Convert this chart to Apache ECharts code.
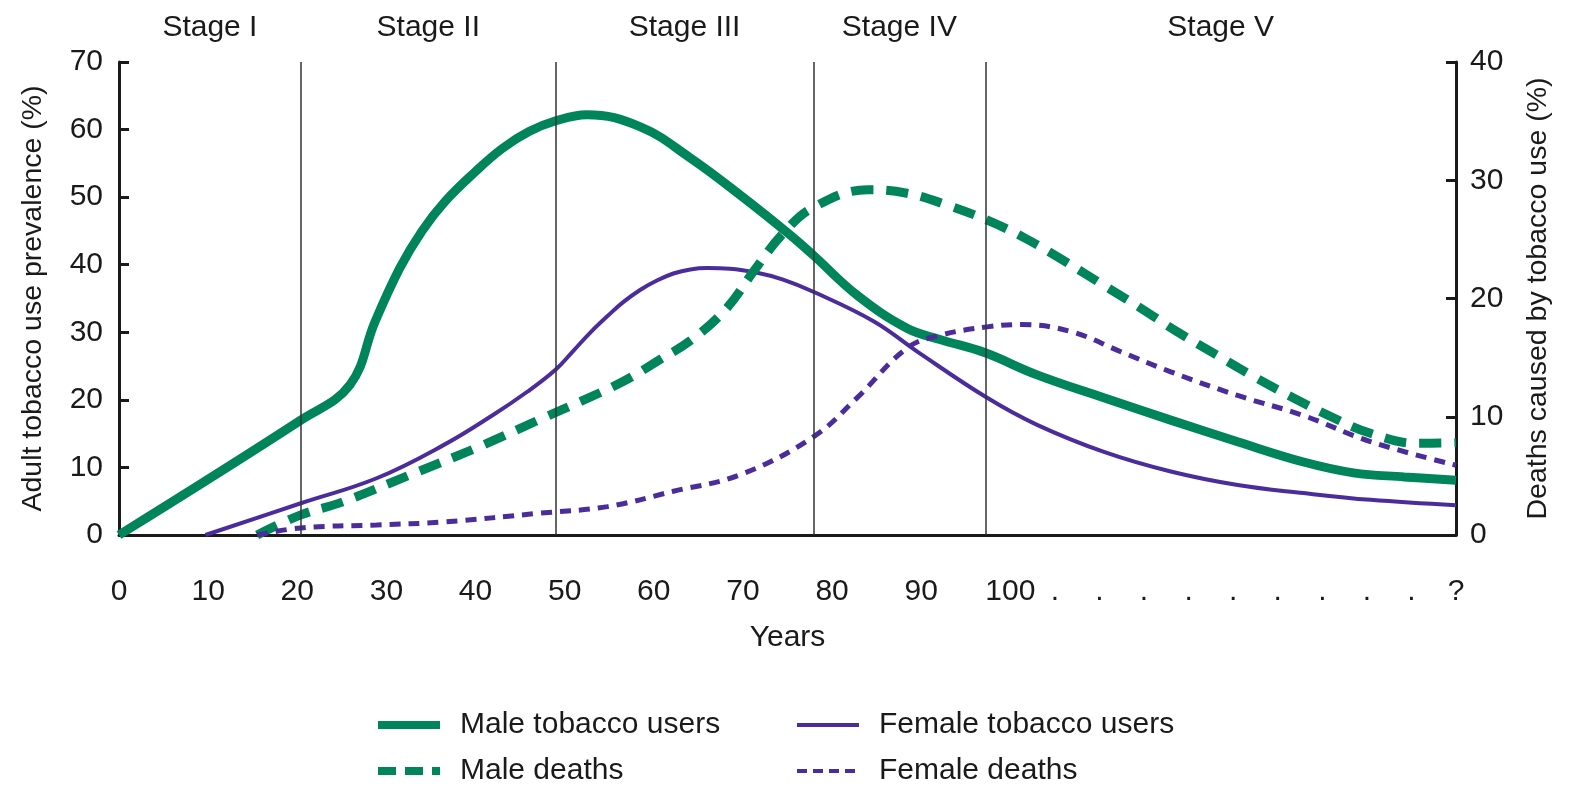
<!DOCTYPE html>
<html><head><meta charset="utf-8">
<script src="https://cdn.jsdelivr.net/npm/echarts@6/dist/echarts.min.js"></script>
<style>html,body{margin:0;padding:0;background:#fff}#c{width:1569px;height:787px}</style>
</head><body><div id="c"></div>
<script>
// ---- data ----
const stageNames = ['Stage I', 'Stage II', 'Stage III', 'Stage IV', 'Stage V'];
const stageBounds = [0, 20.4, 49, 77.9, 97.2, 150];

const maleUsersYears  = [0, 20.4, 25.9, 28.7, 31.5, 34, 36.6, 40, 43, 46, 49, 52.5, 58.5, 64.1, 69.7, 75.3, 77.9, 82.8, 88.4, 92.2, 97.1, 103, 110.5, 118, 125.5, 132.9, 138.5, 144.2, 150];
const maleUsersValues = [0, 17.0, 22.2, 31.5, 39.5, 45.0, 49.4, 53.8, 57.2, 59.7, 61.3, 62.2, 60.4, 55.8, 50.3, 44.4, 41.4, 35.5, 30.6, 28.9, 27.0, 23.7, 20.3, 17.0, 13.8, 10.8, 9.2, 8.6, 8.1];

const femaleUsersYears  = [9.7, 20.4, 28.9, 36.4, 42, 45.8, 49, 51, 52.9, 54.8, 56.6, 58.5, 60.4, 62.2, 64.1, 66, 68.5, 71.6, 74.5, 77.9, 84.7, 89.6, 97.4, 103, 110.5, 118, 125.5, 132.9, 140.4, 150];
const femaleUsersValues = [0, 4.7, 8.4, 13.3, 17.8, 21.2, 24.5, 27.3, 30.0, 32.4, 34.5, 36.3, 37.7, 38.7, 39.3, 39.5, 39.4, 38.8, 37.8, 36.0, 31.6, 27.1, 20.3, 16.3, 12.3, 9.4, 7.4, 6.2, 5.2, 4.4];

const maleDeathsYears  = [15.5, 20.4, 25.1, 32.7, 40.2, 47.6, 51.8, 56.6, 60.4, 64.4, 68.2, 71.2, 74.5, 77.9, 84, 88.4, 92.9, 97.8, 101.9, 106, 110.5, 114.6, 118.7, 123.2, 127.3, 131.5, 136, 140.4, 145.7, 150];
const maleDeathsValues = [0, 1.7, 2.8, 5.1, 7.4, 9.9, 11.3, 13.0, 14.7, 16.6, 19.2, 22.3, 25.5, 27.7, 29.2, 28.9, 27.9, 26.5, 25.0, 23.2, 21.1, 19.2, 17.2, 15.2, 13.4, 11.7, 10.0, 8.6, 7.75, 7.8];

const femaleDeathsYears  = [15.5, 20.4, 28.9, 36.4, 47.3, 54.8, 62.2, 69.7, 77.9, 82.8, 88.4, 92.2, 97.4, 101.2, 106.8, 112.4, 118, 125.5, 132.9, 140.4, 150];
const femaleDeathsValues = [0, 0.6, 0.85, 1.1, 1.85, 2.4, 3.7, 5.1, 8.3, 11.6, 15.8, 16.9, 17.6, 17.8, 17.2, 15.5, 13.8, 11.8, 10.1, 7.9, 5.9];

const xTickLast = 100;   // numbered labels up to here, dots afterwards, '?' at the end
const xMax = 150;

// ---- chart ----
const GREEN = '#00845a', PURPLE = '#4b2c9b', INK = '#1a1a1a';
const FONT = '"Liberation Sans", Arial, sans-serif';
const FS = 30;
const zip = (xs, ys) => xs.map((x, i) => [x, ys[i]]);

const stageAreas = stageNames.map((n, i) => [{ xAxis: stageBounds[i], name: n }, { xAxis: stageBounds[i + 1] }]);
const stageLines = stageBounds.slice(1, -1).map(v => ({ xAxis: v }));

const styles = {
  'Male tobacco users':   { color: GREEN,  width: 9, type: 'solid', legendWidth: 8, legendType: 'solid' },
  'Female tobacco users': { color: PURPLE, width: 4, type: 'solid', legendWidth: 4, legendType: 'solid' },
  'Male deaths':          { color: GREEN,  width: 9, type: [22, 13], legendWidth: 8, legendType: [18, 9] },
  'Female deaths':        { color: PURPLE, width: 5, type: [11, 8],  legendWidth: 4, legendType: [10, 6] }
};
const legendItem = name => ({
  name,
  itemStyle: { opacity: 0 },
  lineStyle: { color: styles[name].color, width: styles[name].legendWidth, type: styles[name].legendType }
});
const lineSeries = (name, yAxisIndex, xs, ys) => ({
  name, type: 'line', yAxisIndex, smooth: 0.4, symbol: 'none', showSymbol: false, z: 3,
  color: styles[name].color,
  lineStyle: { color: styles[name].color, width: styles[name].width, type: styles[name].type },
  data: zip(xs, ys)
});

const legendBase = {
  orient: 'vertical', top: 710, padding: 0, itemWidth: 62, itemHeight: 14, itemGap: 16,
  textStyle: { fontFamily: FONT, fontSize: FS, color: INK, padding: [0, 0, 0, 15] }
};

const chart = echarts.init(document.getElementById('c'), null, { renderer: 'canvas' });
chart.setOption({
  animation: false,
  backgroundColor: '#fff',
  textStyle: { fontFamily: FONT, color: INK },
  grid: { left: 119, right: 113, top: 62, bottom: 252, containLabel: false },
  xAxis: {
    type: 'value', min: 0, max: xMax, interval: 5,
    name: 'Years', nameLocation: 'middle', nameGap: 88,
    nameTextStyle: { fontFamily: FONT, fontSize: FS, color: INK },
    axisLine: { show: true, lineStyle: { color: INK, width: 3 } },
    axisTick: { show: false },
    splitLine: { show: false },
    axisLabel: {
      margin: 42, fontFamily: FONT, fontSize: FS, color: INK,
      formatter: v => {
        if (v <= xTickLast) return v % 10 === 0 ? String(v) : '';
        if (v >= xMax) return '?';
        return '.';
      }
    }
  },
  yAxis: [{
    type: 'value', min: 0, max: 70, interval: 10, position: 'left',
    name: 'Adult tobacco use prevalence (%)', nameLocation: 'middle', nameGap: 71, nameRotate: 90,
    nameTextStyle: { fontFamily: FONT, fontSize: 28.5, color: INK },
    axisLine: { show: true, lineStyle: { color: INK, width: 3 } },
    axisTick: { show: true, inside: true, length: 10, lineStyle: { color: INK, width: 3 } },
    splitLine: { show: false },
    axisLabel: { margin: 16, fontFamily: FONT, fontSize: FS, color: INK }
  }, {
    type: 'value', min: 0, max: 40, interval: 10, position: 'right',
    name: 'Deaths caused by tobacco use (%)', nameLocation: 'middle', nameGap: 68, nameRotate: 90,
    nameTextStyle: { fontFamily: FONT, fontSize: 28.5, color: INK },
    axisLine: { show: true, lineStyle: { color: INK, width: 3 } },
    axisTick: { show: true, inside: true, length: 10, lineStyle: { color: INK, width: 3 } },
    splitLine: { show: false },
    axisLabel: { margin: 14, fontFamily: FONT, fontSize: FS, color: INK }
  }],
  legend: [
    Object.assign({}, legendBase, { left: 374, data: ['Male tobacco users', 'Male deaths'].map(legendItem) }),
    Object.assign({}, legendBase, { left: 795, data: ['Female tobacco users', 'Female deaths'].map(legendItem) })
  ],
  series: [{
    name: 'stages', type: 'line', data: [], silent: true, z: 1,
    markArea: {
      silent: true, itemStyle: { color: 'rgba(0,0,0,0)' },
      label: { show: true, position: 'top', distance: 19, fontFamily: FONT, fontSize: FS, color: INK },
      data: stageAreas
    },
    markLine: {
      silent: true, symbol: ['none', 'none'], label: { show: false },
      lineStyle: { color: '#333', width: 1.5, type: 'solid' },
      data: stageLines
    }
  },
    lineSeries('Male tobacco users', 0, maleUsersYears, maleUsersValues),
    lineSeries('Female tobacco users', 0, femaleUsersYears, femaleUsersValues),
    lineSeries('Male deaths', 1, maleDeathsYears, maleDeathsValues),
    lineSeries('Female deaths', 1, femaleDeathsYears, femaleDeathsValues)
  ]
});
</script>
</body></html>
